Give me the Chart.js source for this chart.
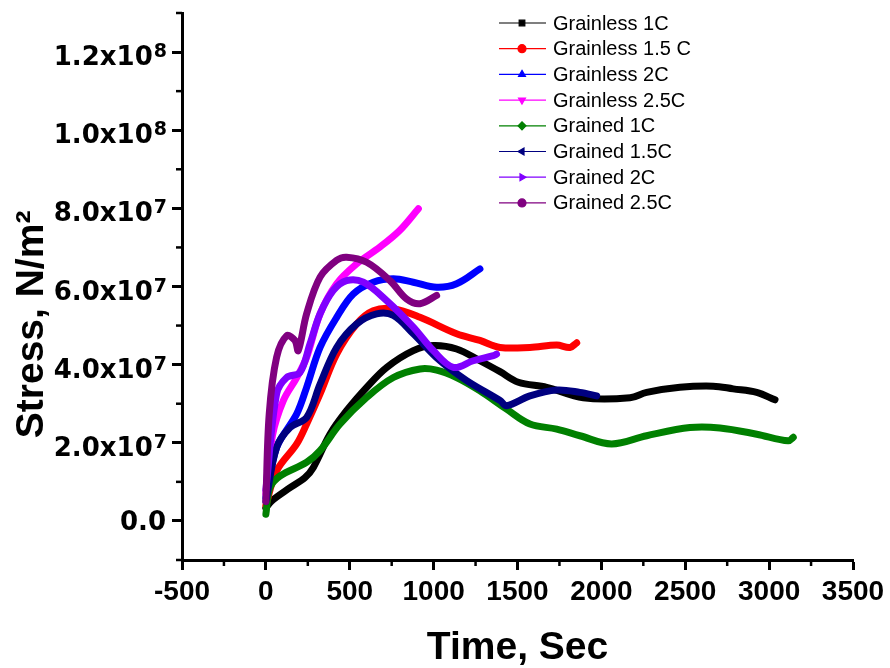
<!DOCTYPE html>
<html>
<head>
<meta charset="utf-8">
<script src="https://cdn.jsdelivr.net/npm/chart.js@4.4.1/dist/chart.umd.min.js"></script>
<style>
  html, body { margin: 0; padding: 0; background: #fff; }
  #wrap { width: 890px; height: 668px; }
</style>
</head>
<body>
<div id="wrap"><canvas id="chart" width="890" height="668"></canvas></div>
<script>
// time (s) / stress (N/m^2)
const gl1cTime = [0, 34, 144, 233, 283, 382, 481, 601, 720, 879, 998, 1137, 1276, 1396, 1505, 1674, 1892, 2171, 2270, 2468, 2667, 2786, 2926, 3035];
const gl1cStress = [3.3e6, 5.1e6, 8.5e6, 1.11e7, 1.37e7, 2.22e7, 2.82e7, 3.42e7, 3.93e7, 4.36e7, 4.49e7, 4.40e7, 4.10e7, 3.82e7, 3.55e7, 3.42e7, 3.15e7, 3.15e7, 3.29e7, 3.42e7, 3.45e7, 3.38e7, 3.29e7, 3.1e7];

const gl15cTime = [0, 64, 184, 243, 323, 422, 541, 640, 760, 919, 1137, 1276, 1396, 1574, 1734, 1813, 1853];
const gl15cStress = [4e6, 1.28e7, 1.97e7, 2.48e7, 3.25e7, 4.27e7, 5.04e7, 5.38e7, 5.43e7, 5.21e7, 4.79e7, 4.62e7, 4.44e7, 4.44e7, 4.5e7, 4.44e7, 4.56e7];

const gl2cTime = [0, 64, 184, 243, 323, 422, 521, 640, 760, 879, 1018, 1137, 1276];
const gl2cStress = [6e6, 1.88e7, 2.74e7, 3.42e7, 4.44e7, 5.21e7, 5.81e7, 6.11e7, 6.2e7, 6.11e7, 5.98e7, 6.07e7, 6.45e7];

const gl25cTime = [0, 40, 104, 184, 243, 323, 422, 541, 680, 799, 909];
const gl25cStress = [7e6, 2.2e7, 3.08e7, 3.67e7, 4.19e7, 5.3e7, 6.07e7, 6.58e7, 7.01e7, 7.44e7, 7.99e7];

const gr1cTime = [0, 24, 84, 243, 323, 442, 601, 760, 919, 1018, 1137, 1276, 1435, 1574, 1734, 1872, 2061, 2270, 2528, 2707, 2926, 3114, 3144];
const gr1cStress = [1.7e6, 8.5e6, 1.15e7, 1.5e7, 1.8e7, 2.48e7, 3.16e7, 3.67e7, 3.89e7, 3.86e7, 3.67e7, 3.33e7, 2.86e7, 2.48e7, 2.35e7, 2.18e7, 1.97e7, 2.18e7, 2.39e7, 2.38e7, 2.22e7, 2.05e7, 2.14e7];

const gr15cTime = [0, 64, 144, 243, 323, 422, 541, 660, 760, 879, 1038, 1197, 1396, 1435, 1574, 1734, 1872, 1972];
const gr15cStress = [5e6, 1.88e7, 2.39e7, 2.65e7, 3.5e7, 4.44e7, 5.04e7, 5.3e7, 5.26e7, 4.79e7, 4.1e7, 3.59e7, 3.08e7, 2.95e7, 3.2e7, 3.35e7, 3.29e7, 3.2e7];

const gr2cTime = [0, 64, 124, 203, 263, 323, 402, 481, 581, 720, 879, 998, 1117, 1236, 1356, 1375];
const gr2cStress = [8e6, 3.25e7, 3.67e7, 3.8e7, 4.53e7, 5.3e7, 5.9e7, 6.15e7, 6.11e7, 5.64e7, 4.96e7, 4.36e7, 3.93e7, 4.1e7, 4.23e7, 4.27e7];

const gr25cTime = [0, 20, 64, 124, 173, 193, 243, 323, 422, 481, 601, 740, 839, 919, 1018];
const gr25cStress = [5e6, 2.74e7, 4.19e7, 4.74e7, 4.62e7, 4.36e7, 5.3e7, 6.24e7, 6.67e7, 6.75e7, 6.62e7, 6.15e7, 5.68e7, 5.56e7, 5.77e7];

const seriesLabels = ['Grainless 1C', 'Grainless 1.5 C', 'Grainless 2C', 'Grainless 2.5C', 'Grained 1C', 'Grained 1.5C', 'Grained 2C', 'Grained 2.5C'];
const seriesTimes = [gl1cTime, gl15cTime, gl2cTime, gl25cTime, gr1cTime, gr15cTime, gr2cTime, gr25cTime];
const seriesStress = [gl1cStress, gl15cStress, gl2cStress, gl25cStress, gr1cStress, gr15cStress, gr2cStress, gr25cStress];
const seriesColors = ['#000000', '#ff0000', '#0000ff', '#ff00ff', '#008000', '#000080', '#8000ff', '#800080'];
const seriesMarkers = ['rect', 'circle', 'triangle', 'triangle', 'rectRot', 'triangle', 'triangle', 'circle'];
const markerRotation = [0, 0, 0, 180, 0, -90, 90, 0];

const xTickValues = [-500, 0, 500, 1000, 1500, 2000, 2500, 3000, 3500];
const xMinorTicks = [-250, 250, 750, 1250, 1750, 2250, 2750, 3250];
const yTickValues = [0, 2e7, 4e7, 6e7, 8e7, 1e8, 1.2e8];
const yTickMantissa = ['0.0', '2.0x10', '4.0x10', '6.0x10', '8.0x10', '1.0x10', '1.2x10'];
const yTickExponent = ['', '7', '7', '7', '7', '8', '8'];
const yMinorTicks = [-1e7, 1e7, 3e7, 5e7, 7e7, 9e7, 1.1e8, 1.3e8];

const datasets = seriesLabels.map((label, i) => ({
    label: label,
    data: seriesTimes[i].map((t, k) => ({ x: t, y: seriesStress[i][k] })),
    borderColor: seriesColors[i],
    backgroundColor: seriesColors[i],
    borderWidth: 7,
    borderCapStyle: 'round',
    borderJoinStyle: 'round',
    pointRadius: 0,
    pointStyle: seriesMarkers[i],
    pointRotation: markerRotation[i],
    tension: 0.35,
    order: seriesLabels.length - i
}));

// minor ticks (shorter, unlabeled)
const minorTickPlugin = {
    id: 'minorTicks',
    afterDraw(chart) {
        const { ctx, chartArea, scales } = chart;
        ctx.save();
        ctx.strokeStyle = '#000';
        ctx.lineWidth = 2.5;
        xMinorTicks.forEach(v => {
            const px = scales.x.getPixelForValue(v);
            ctx.beginPath();
            ctx.moveTo(px, chartArea.bottom);
            ctx.lineTo(px, chartArea.bottom + 6);
            ctx.stroke();
        });
        yMinorTicks.forEach(v => {
            const py = scales.y.getPixelForValue(v);
            ctx.beginPath();
            ctx.moveTo(chartArea.left, py);
            ctx.lineTo(chartArea.left - 6, py);
            ctx.stroke();
        });
        ctx.restore();
    }
};

// y labels like "2.0x10^7" with a real raised exponent
const yLabelPlugin = {
    id: 'yLabels',
    afterDraw(chart) {
        const { ctx, chartArea, scales } = chart;
        const right = chartArea.left - 16;
        ctx.save();
        ctx.fillStyle = '#000';
        ctx.textBaseline = 'alphabetic';
        yTickValues.forEach((v, i) => {
            const py = scales.y.getPixelForValue(v);
            const mainFont = 'bold 26px "DejaVu Sans", sans-serif';
            const supFont = 'bold 19px "DejaVu Sans", sans-serif';
            ctx.font = supFont;
            const supW = yTickExponent[i] ? ctx.measureText(yTickExponent[i]).width : 0;
            ctx.font = mainFont;
            const mainW = ctx.measureText(yTickMantissa[i]).width;
            const x0 = right - mainW - supW;
            const base = yTickExponent[i] ? py + 13 : py + 9.5;
            ctx.fillText(yTickMantissa[i], x0, base);
            if (yTickExponent[i]) {
                ctx.font = supFont;
                ctx.fillText(yTickExponent[i], x0 + mainW + 1, py + 5);
            }
        });
        ctx.restore();
    }
};

// legend box inside the plot, Origin style
const legendPlugin = {
    id: 'insideLegend',
    afterDraw(chart) {
        const ctx = chart.ctx;
        ctx.save();
        chart.data.datasets.forEach((ds, i) => {
            const y = 23 + i * 25.7;
            ctx.strokeStyle = ds.borderColor;
            ctx.lineWidth = 1.2;
            ctx.beginPath();
            ctx.moveTo(499, y);
            ctx.lineTo(546, y);
            ctx.stroke();
            ctx.fillStyle = ds.borderColor;
            Chart.helpers.drawPoint(ctx, {
                pointStyle: ds.pointStyle,
                rotation: ds.pointRotation,
                radius: 4,
                borderWidth: 1
            }, 522, y);
            ctx.fillStyle = '#000';
            ctx.font = '20px "Liberation Sans", Arial, sans-serif';
            ctx.textBaseline = 'middle';
            ctx.fillText(ds.label, 553, y + 1);
        });
        ctx.restore();
    }
};

const ctx = document.getElementById('chart').getContext('2d');

const chart = new Chart(ctx, {
    type: 'line',
    data: { datasets: datasets },
    options: {
        responsive: false,
        animation: false,
        layout: { padding: { top: 13, right: 37, left: 0, bottom: 0 } },
        plugins: {
            legend: { display: false },
            tooltip: { enabled: false }
        },
        scales: {
            x: {
                type: 'linear',
                min: -500,
                max: 3500,
                afterBuildTicks: s => { s.ticks = xTickValues.map(v => ({ value: v })); },
                afterFit: s => { s.height = 108; },
                border: { color: '#000', width: 3 },
                grid: { drawOnChartArea: false, tickLength: 10, tickWidth: 3, tickColor: '#000' },
                ticks: {
                    color: '#000',
                    padding: 5,
                    maxRotation: 0,
                    autoSkip: false,
                    font: { family: '"Liberation Sans", Arial, sans-serif', size: 28, weight: 'bold' },
                    callback: v => String(v)
                },
                title: {
                    display: true,
                    text: 'Time, Sec',
                    color: '#000',
                    padding: { top: 0, bottom: 0 },
                    font: { family: '"Liberation Sans", Arial, sans-serif', size: 39, weight: 'bold', lineHeight: 1 }
                }
            },
            y: {
                min: -1e7,
                max: 1.3e8,
                afterBuildTicks: s => { s.ticks = yTickValues.map(v => ({ value: v })); },
                afterFit: s => { s.width = 182; },
                border: { color: '#000', width: 3 },
                grid: { drawOnChartArea: false, tickLength: 10, tickWidth: 3, tickColor: '#000' },
                ticks: { display: false },
                title: {
                    display: true,
                    text: 'Stress, N/m\u00b2' + '\u00a0'.repeat(7),
                    color: '#000',
                    padding: { top: 13, bottom: 0 },
                    font: { family: '"Liberation Sans", Arial, sans-serif', size: 39, weight: 'bold', lineHeight: 1 }
                }
            }
        }
    },
    plugins: [minorTickPlugin, yLabelPlugin, legendPlugin]
});
</script>
</body>
</html>
